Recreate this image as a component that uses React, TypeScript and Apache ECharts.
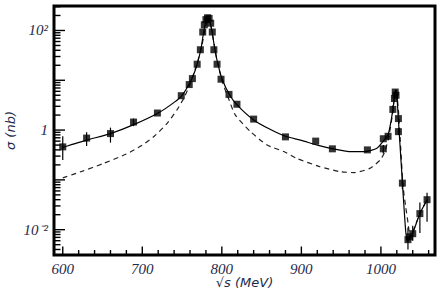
import React, { useEffect, useRef } from "react";
import * as echarts from "echarts";

// measured cross-section points [sqrt(s) MeV, sigma nb]
const dataX = [600, 630, 660, 689, 719, 749, 759, 763, 769, 773, 776, 778, 780, 782, 784, 786, 788, 790, 794, 799, 809, 819, 840, 880, 918, 939, 983, 1003, 1003, 1009, 1015, 1017, 1018, 1019, 1022, 1022, 1027, 1034, 1036, 1040, 1049, 1058];
const dataY = [0.46, 0.69, 0.85, 1.45, 2.2, 4.9, 8.2, 10.8, 21, 41, 93, 130, 165, 180, 175, 140, 93, 41, 21, 10.5, 5.2, 3.3, 1.66, 0.73, 0.6, 0.42, 0.4, 0.42, 0.67, 0.75, 2.6, 4.3, 5.8, 5.0, 1.7, 0.93, 0.086, 0.0063, 0.0072, 0.0083, 0.021, 0.04];

// error bars [sqrt(s), low, high]
const errX = [600, 630, 660, 689, 1003, 1009, 1015, 1022, 1027, 1034, 1040, 1049, 1058];
const errLow = [0.25, 0.48, 0.56, 1.2, 0.34, 0.65, 2.2, 0.8, 0.065, 0.004, 0.006, 0.0086, 0.0145];
const errHigh = [0.75, 0.9, 1.12, 1.7, 0.5, 0.86, 3.1, 1.1, 0.11, 0.011, 0.012, 0.035, 0.055];

// full fit (solid)
const fitX = [600, 630, 660, 690, 720, 740, 750, 760, 766, 770, 774, 777, 780, 782, 784, 786, 788, 790, 794, 800, 810, 820, 840, 860, 880, 900, 920, 940, 960, 980, 995, 1003, 1009, 1013, 1015, 1017, 1018.5, 1020, 1022, 1024, 1026, 1028, 1031, 1033, 1036, 1040, 1049, 1058];
const fitY = [0.45, 0.63, 0.85, 1.3, 2.2, 3.6, 5.0, 9, 15, 24, 45, 90, 160, 185, 170, 130, 90, 55, 25, 11, 5.0, 3.1, 1.6, 1.05, 0.75, 0.62, 0.5, 0.42, 0.37, 0.37, 0.43, 0.6, 0.8, 1.6, 2.6, 4.5, 6.5, 5.0, 1.6, 0.5, 0.16, 0.05, 0.01, 0.0058, 0.0065, 0.0085, 0.021, 0.04];

// alternative fit (dashed)
const altX = [600, 625, 650, 680, 700, 715, 731, 744, 752, 758, 765, 770, 775, 778, 781, 783, 786, 789, 793, 800, 808, 817, 836, 857, 878, 894, 923, 948, 967, 986, 999, 1005, 1010, 1014, 1017, 1019, 1022, 1025, 1028, 1031, 1034, 1037, 1040, 1049, 1058];
const altY = [0.11, 0.15, 0.21, 0.33, 0.5, 0.75, 1.35, 2.6, 4.3, 7, 14, 25, 50, 90, 150, 180, 130, 70, 30, 10, 4.5, 2.0, 0.93, 0.5, 0.37, 0.27, 0.185, 0.147, 0.14, 0.17, 0.25, 0.37, 0.75, 1.8, 4.5, 6.5, 2.5, 0.4, 0.07, 0.03, 0.014, 0.007, 0.009, 0.021, 0.04];

const xMajorTicks = [600, 700, 800, 900, 1000];
const xMinorTicks = [620, 640, 660, 680, 720, 740, 760, 780, 820, 840, 860, 880, 920, 940, 960, 980, 1020, 1040, 1060];
const yLabelTicks = [0.01, 1, 100];
const yMajorTicks = [0.01, 0.1, 1, 10, 100];
const yMinorTicks = [0.004, 0.005, 0.006, 0.007, 0.008, 0.009, 0.02, 0.03, 0.04, 0.05, 0.06, 0.07, 0.08, 0.09, 0.2, 0.3, 0.4, 0.5, 0.6, 0.7, 0.8, 0.9, 2, 3, 4, 5, 6, 7, 8, 9, 20, 30, 40, 50, 60, 70, 80, 90, 200, 300];

const TEXT = "#1e2a4a";
const X_MIN = 589;
const X_MAX = 1068;
const Y_MIN = 0.0031;
const Y_MAX = 310;

export default function App() {
  const ref = useRef<HTMLDivElement>(null);
  useEffect(() => {
    if (!ref.current) return;
    const chart = echarts.init(ref.current, undefined, { renderer: "svg" });
    const labelFmt = (v: number) => {
      if (Math.abs(v - 100) < 1e-6) return "10²";
      if (Math.abs(v - 1) < 1e-9) return "1";
      if (Math.abs(v - 0.01) < 1e-9) return "10⁻²";
      return "";
    };
    chart.setOption({
      animation: false,
      backgroundColor: "#fff",
      grid: {
        left: 54,
        right: 7,
        top: 6,
        bottom: 38,
        containLabel: false,
        outerBoundsMode: "none",
        show: true,
        borderColor: "#000",
        borderWidth: 3,
        backgroundColor: "transparent",
      },
      xAxis: {
        type: "value",
        min: X_MIN,
        max: X_MAX,
        position: "bottom",
        axisLine: { show: false },
        splitLine: { show: false },
        axisTick: { show: false },
        axisLabel: {
          customValues: xMajorTicks,
          formatter: (v: number) => String(v),
          color: TEXT,
          fontStyle: "italic",
          fontFamily: "Liberation Serif",
          fontSize: 15,
          margin: 6,
        },
        name: "√s (MeV)",
        nameLocation: "middle",
        nameGap: 21,
        nameMoveOverlap: false,
        nameTextStyle: { color: TEXT, fontStyle: "italic", fontFamily: "DejaVu Sans", fontSize: 13 },
      },
      yAxis: {
        type: "log",
        logBase: 10,
        min: Y_MIN,
        max: Y_MAX,
        axisLine: { show: false },
        splitLine: { show: false },
        axisTick: { show: false },
        axisLabel: {
          customValues: yLabelTicks,
          formatter: labelFmt,
          color: TEXT,
          fontStyle: "italic",
          fontFamily: "Liberation Serif",
          fontSize: 15,
          margin: 6,
        },
        name: "σ (nb)",
        nameLocation: "middle",
        nameGap: 37,
        nameRotate: 90,
        nameMoveOverlap: false,
        nameTextStyle: { color: TEXT, fontStyle: "italic", fontFamily: "DejaVu Sans", fontSize: 13 },
      },
      series: [
        {
          type: "line",
          name: "fit",
          data: fitX.map((x, i) => [x, fitY[i]]),
          showSymbol: false,
          symbol: "none",
          smooth: 0.2,
          lineStyle: { color: "#000", width: 1.2 },
          z: 3,
        },
        {
          type: "line",
          name: "alt",
          data: altX.map((x, i) => [x, altY[i]]),
          showSymbol: false,
          symbol: "none",
          smooth: 0.2,
          lineStyle: { color: "#222", width: 1.2, type: [5, 4] },
          z: 2,
        },
        {
          type: "custom",
          name: "err",
          data: errX.map((x, i) => [x, errLow[i], errHigh[i]]),
          renderItem: (_p: any, api: any) => {
            const a = api.coord([api.value(0), api.value(1)]);
            const b = api.coord([api.value(0), api.value(2)]);
            return {
              type: "line",
              shape: { x1: a[0], y1: a[1], x2: b[0], y2: b[1] },
              style: { stroke: "#000", lineWidth: 1.2 },
            };
          },
          z: 4,
        },
        {
          type: "scatter",
          name: "data",
          data: dataX.map((x, i) => [x, dataY[i]]),
          symbol: "rect",
          symbolSize: 7,
          itemStyle: { color: "#000" },
          z: 5,
        },
      ],
    });

    // axis ticks placed through the chart's own scales
    const corner = chart.convertToPixel({ gridIndex: 0 }, [X_MIN, Y_MIN]) as number[];
    const yb = corner[1];
    const xl = corner[0];
    const ticks: any[] = [];
    const addX = (v: number, len: number) => {
      const px = chart.convertToPixel({ xAxisIndex: 0 }, v) as number;
      ticks.push({ type: "line", z: 100, silent: true, shape: { x1: px, y1: yb, x2: px, y2: yb - len }, style: { stroke: "#000", lineWidth: 1.4 } });
    };
    const addY = (v: number, len: number) => {
      const py = chart.convertToPixel({ yAxisIndex: 0 }, v) as number;
      ticks.push({ type: "line", z: 100, silent: true, shape: { x1: xl, y1: py, x2: xl + len, y2: py }, style: { stroke: "#000", lineWidth: 1.4 } });
    };
    xMajorTicks.forEach((v) => addX(v, 8.5));
    xMinorTicks.forEach((v) => addX(v, 5));
    yMajorTicks.forEach((v) => addY(v, 11));
    yMinorTicks.forEach((v) => addY(v, 6.5));
    chart.setOption({ graphic: { elements: ticks } });

    return () => chart.dispose();
  }, []);
  return <div ref={ref} style={{ width: 442, height: 293, position: "absolute", left: 0, top: 0 }} />;
}
